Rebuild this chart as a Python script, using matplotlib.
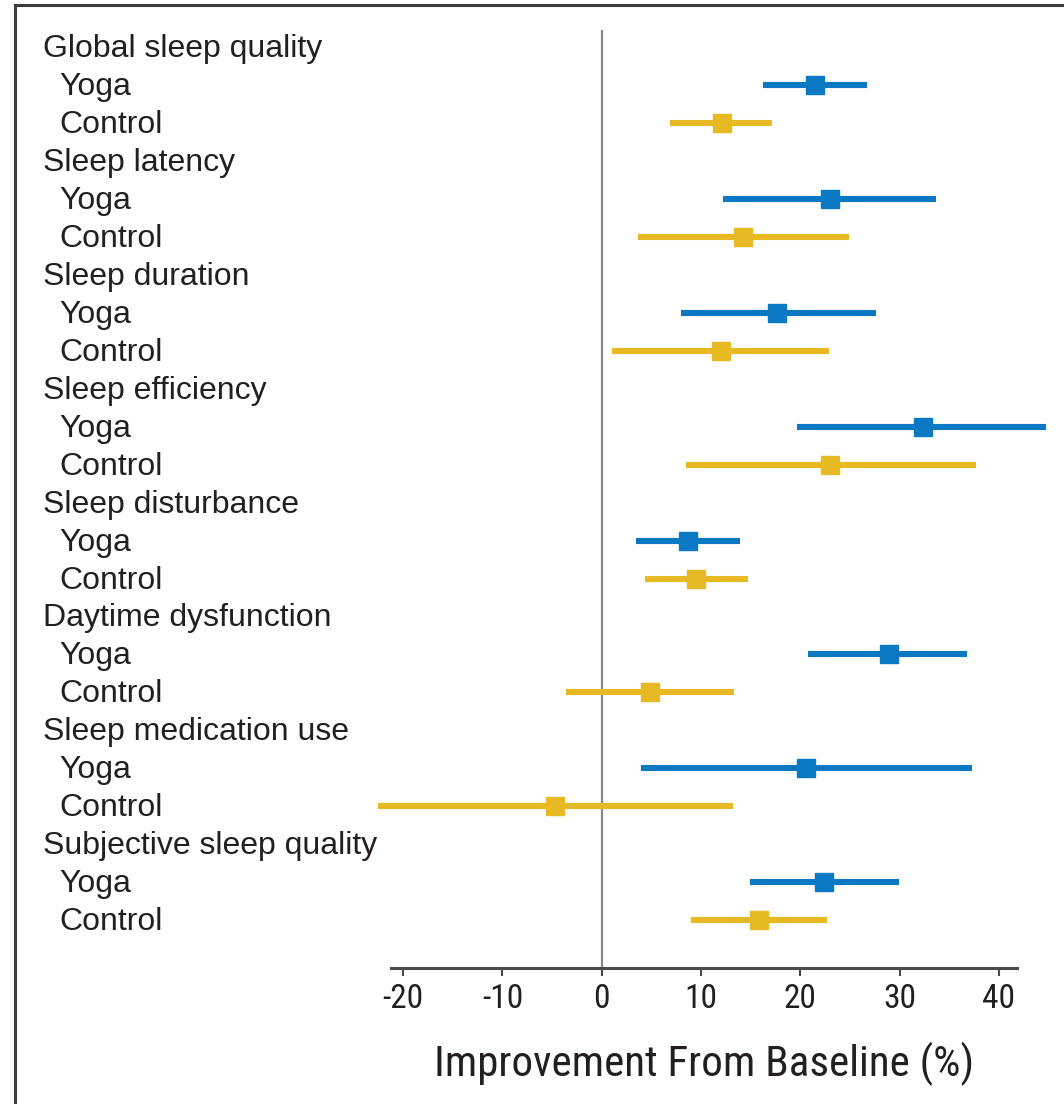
import matplotlib
matplotlib.use('Agg')
import matplotlib.pyplot as plt
from matplotlib import font_manager
from matplotlib.lines import Line2D
from matplotlib.transforms import blended_transform_factory

categories = ['Global sleep quality', 'Sleep latency', 'Sleep duration',
              'Sleep efficiency', 'Sleep disturbance', 'Daytime dysfunction',
              'Sleep medication use', 'Subjective sleep quality']
groups = ['Yoga', 'Control']

yoga_mean = [21.5, 23.0, 17.7, 32.4, 8.7, 28.9, 20.6, 22.4]
yoga_lo = [16.2, 12.2, 8.0, 19.7, 3.5, 20.8, 4.0, 14.9]
yoga_hi = [26.7, 33.7, 27.6, 44.8, 13.9, 36.8, 37.3, 29.9]

ctrl_mean = [12.1, 14.2, 12.0, 23.0, 9.5, 4.9, -4.7, 15.8]
ctrl_lo = [6.9, 3.7, 1.0, 8.5, 4.4, -3.6, -22.5, 9.0]
ctrl_hi = [17.2, 24.9, 22.9, 37.7, 14.7, 13.3, 13.2, 22.7]

xticks = [-20, -10, 0, 10, 20, 30, 40]

blue = '#0a78c2'
gold = '#e7b922'
text_color = '#231f20'

# condensed face for the axis text, first one that is installed
installed = {f.name for f in font_manager.fontManager.ttflist}
narrow = next((n for n in ['Roboto Condensed', 'Archivo Narrow', 'PT Sans Narrow',
                           'Fira Sans Condensed', 'Saira Condensed']
               if n in installed), 'DejaVu Sans')

W, H = 1064, 1104
fig = plt.figure(figsize=(W / 100, H / 100), dpi=100)
ax = fig.add_axes([390.7 / W, 136 / H, (1016.7 - 390.7) / W, (968 - 30) / H])

# one row for each heading, then one for yoga and one for control
ax.set_ylim(24.26, -0.45)
ax.set_xlim(-21.25, 41.8)

ax.axvline(0, color='#8a8a8a', lw=1.6, zorder=1)

label_tf = blended_transform_factory(fig.transFigure, ax.transData)
for i, cat in enumerate(categories):
    y0 = 3 * i
    ax.text(43 / W, y0 - 0.04, cat, transform=label_tf, fontsize=23,
            family='Liberation Sans', color=text_color, va='center_baseline')
    for j, g in enumerate(groups):
        ax.text(59 / W, y0 + 1 + j - 0.04, g, transform=label_tf, fontsize=23,
                family='Liberation Sans', color=text_color, va='center_baseline')

    for j, (m, lo, hi, c) in enumerate([(yoga_mean[i], yoga_lo[i], yoga_hi[i], blue),
                                        (ctrl_mean[i], ctrl_lo[i], ctrl_hi[i], gold)]):
        y = y0 + 1 + j
        ax.hlines(y, lo, hi, color=c, lw=4.4, capstyle='butt', clip_on=False, zorder=2)
        ax.plot([m], [y], marker='s', ms=13, color=c, mec=c, clip_on=False, zorder=3)

for side in ['top', 'right', 'left']:
    ax.spines[side].set_visible(False)
ax.spines['bottom'].set_color('#4a4a4a')
ax.spines['bottom'].set_linewidth(2.2)
ax.set_yticks([])
ax.set_xticks(xticks)
ax.set_xticklabels([str(t) for t in xticks], family=narrow, fontsize=24, color=text_color)
ax.tick_params(axis='x', direction='out', length=6, width=1.5, color='#4a4a4a', pad=5)
ax.set_xlabel('Improvement From Baseline (%)', family=narrow, fontsize=31,
              color=text_color, labelpad=19)

# frame lines along the left and top edges
fig.add_artist(Line2D([15 / W, 15 / W], [0, 1 - 5 / H], transform=fig.transFigure,
                      color='#3c3c3c', lw=2.2))
fig.add_artist(Line2D([15 / W, 1], [1 - 5 / H, 1 - 5 / H], transform=fig.transFigure,
                      color='#3c3c3c', lw=2.2))

fig.savefig('out.png', dpi=100)
